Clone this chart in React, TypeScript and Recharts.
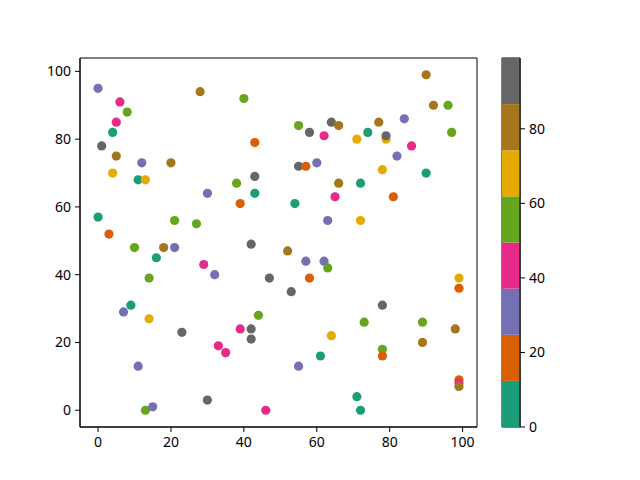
import React from 'react';
import {
  ScatterChart,
  Scatter,
  BarChart,
  Bar,
  XAxis,
  YAxis,
  ReferenceArea
} from 'recharts';

// point positions
const xs = [
  0, 6, 8, 5, 4, 1, 5, 12, 20, 4, 11, 13, 28, 40, 43, 43, 38, 43, 30, 39, 0, 21, 27, 3,
  90, 92, 96, 97, 84, 77, 55, 64, 66, 58, 62, 74, 71, 79, 79, 86, 82, 55, 57, 60, 78, 90, 66, 72, 65, 81, 54, 63, 72,
  10, 18, 21, 42, 16, 29, 32, 14, 47, 9, 7, 14, 44, 23, 39, 42, 42, 33, 35, 11, 30, 13, 15, 46,
  52, 57, 62, 63, 58, 53, 99, 99, 78, 73, 89, 98, 64, 89, 78, 78, 61, 55, 99, 99, 99, 71, 72
];
const ys = [
  95, 91, 88, 85, 82, 78, 75, 73, 73, 70, 68, 68, 94, 92, 79, 69, 67, 64, 64, 61, 57, 56, 55, 52,
  99, 90, 90, 82, 86, 85, 84, 85, 84, 82, 81, 82, 80, 80, 81, 78, 75, 72, 72, 73, 71, 70, 67, 67, 63, 63, 61, 56, 56,
  48, 48, 48, 49, 45, 43, 40, 39, 39, 31, 29, 27, 28, 23, 24, 24, 21, 19, 17, 13, 3, 0, 1, 0,
  47, 44, 44, 42, 39, 35, 39, 36, 31, 26, 26, 24, 22, 20, 18, 16, 16, 13, 9, 8, 7, 4, 0
];
// colour values (only the colorbar bin can be read, so these sit inside their bins)
const cs = [
  31, 43, 55, 43, 6, 93, 80, 31, 80, 68, 6, 68, 80, 55, 18, 93, 55, 6, 31, 18, 6, 55, 55, 18,
  80, 80, 55, 55, 31, 80, 55, 93, 80, 93, 43, 6, 68, 68, 93, 43, 31, 93, 18, 31, 68, 6, 80, 6, 43, 18, 6, 31, 68,
  55, 80, 31, 93, 6, 43, 31, 55, 93, 6, 31, 68, 55, 93, 43, 93, 93, 43, 43, 31, 93, 55, 31, 43,
  80, 31, 31, 55, 18, 93, 68, 18, 93, 55, 55, 80, 68, 80, 55, 18, 6, 31, 18, 43, 80, 6, 6
];

const xTicks = [0, 20, 40, 60, 80, 100];
const yTicks = [0, 20, 40, 60, 80, 100];
const cbTicks = [0, 20, 40, 60, 80];
const cbBounds = [0, 12.375, 24.75, 37.125, 49.5, 61.875, 74.25, 86.625, 99];
const dark2 = ['#1b9e77', '#d95f02', '#7570b3', '#e7298a', '#66a61e', '#e6ab02', '#a6761d', '#666666'];
const axisMin = -4.95;
const axisMax = 103.95;

const colorFor = (c: number) => {
  for (let i = 0; i < dark2.length; i++) {
    if (c < cbBounds[i + 1]) return dark2[i];
  }
  return dark2[dark2.length - 1];
};

const points = xs.map((x, i) => ({ x, y: ys[i], c: cs[i] }));

const cbRow: Record<string, number | string> = { name: 'cb' };
dark2.forEach((_, i) => {
  cbRow['b' + i] = cbBounds[i + 1] - cbBounds[i];
});
const cbData = [cbRow];

const tickStyle = { fill: '#000', fontSize: 14, fontFamily: '"Noto Sans", sans-serif' };

const Dot = (props: any) => {
  const { cx, cy, payload } = props;
  return <circle cx={cx} cy={cy} r={4.6} fill={colorFor(payload.c)} />;
};

export default function App() {
  return (
    <div style={{ position: 'absolute', left: 0, top: 0, width: 640, height: 480, background: '#fff' }}>
      <div style={{ position: 'absolute', left: 0, top: 0 }}>
        <ScatterChart width={640} height={480} margin={{ top: 58, right: 163, bottom: 23, left: 40 }}>
          <XAxis
            type="number"
            dataKey="x"
            domain={[axisMin, axisMax]}
            ticks={xTicks}
            allowDataOverflow
            tick={tickStyle}
            tickSize={5}
            tickMargin={5}
            stroke="#000"
            height={30}
          />
          <YAxis
            type="number"
            dataKey="y"
            domain={[axisMin, axisMax]}
            ticks={yTicks}
            allowDataOverflow
            tick={tickStyle}
            tickSize={5}
            tickMargin={4}
            stroke="#000"
            width={40}
          />
          <Scatter data={points} shape={<Dot />} isAnimationActive={false} />
          {/* frame around the axes */}
          <ReferenceArea
            x1={axisMin}
            x2={axisMax}
            y1={axisMin}
            y2={axisMax}
            fill="none"
            fillOpacity={0}
            stroke="#000"
            strokeWidth={1}
            strokeOpacity={1}
          />
        </ScatterChart>
      </div>
      <div style={{ position: 'absolute', left: 0, top: 0 }}>
        <BarChart
          width={640}
          height={480}
          data={cbData}
          barCategoryGap={0}
          margin={{ top: 58, right: 70, bottom: 53, left: 502 }}
        >
          <XAxis dataKey="name" tick={false} tickLine={false} axisLine={false} height={0} />
          <YAxis
            orientation="right"
            type="number"
            domain={[0, 99]}
            ticks={cbTicks}
            allowDataOverflow
            tick={tickStyle}
            tickSize={5}
            tickMargin={4}
            stroke="#000"
            width={50}
          />
          {dark2.map((col, i) => (
            <Bar key={col} dataKey={'b' + i} stackId="cb" fill={col} isAnimationActive={false} />
          ))}
          <ReferenceArea
            y1={0}
            y2={99}
            fill="none"
            fillOpacity={0}
            stroke="#000"
            strokeWidth={1}
            strokeOpacity={1}
          />
        </BarChart>
      </div>
    </div>
  );
}
